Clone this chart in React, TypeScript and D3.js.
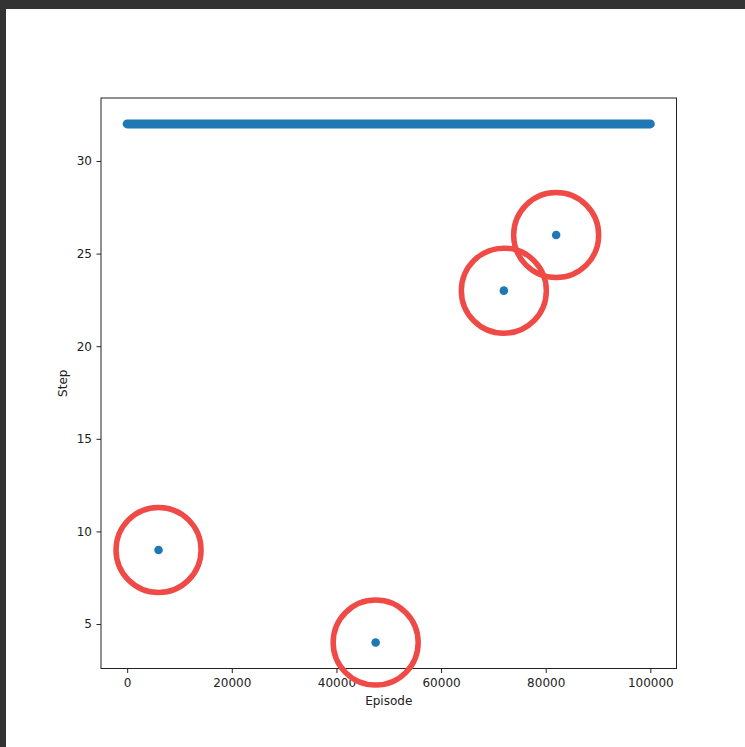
import React, { useRef, useEffect } from 'react';
import * as d3 from 'd3';

// steady run: every episode in this range finished at the same step count
const steadyEpisodes = [0, 100000];
const steadyStep = 32;

// episodes that ended early (each one circled in red)
const outlierEpisodes = [6000, 47500, 72000, 82000];
const outlierSteps = [9, 4, 23, 26];

const xTicks = [0, 20000, 40000, 60000, 80000, 100000];
const yTicks = [5, 10, 15, 20, 25, 30];

const W = 745;
const H = 747;

const App: React.FC = () => {
  const svgRef = useRef<SVGSVGElement>(null);

  useEffect(() => {
    if (!svgRef.current) return;
    const svg = d3.select(svgRef.current);
    svg.selectAll('*').remove();

    const left = 101, right = 676.5, top = 98, bottom = 668.5;
    const blue = '#1f77b4';
    const font = 'DejaVu Sans, sans-serif';

    // dark frame of the screenshot
    svg.append('rect').attr('width', W).attr('height', H).attr('fill', '#333');
    svg.append('rect').attr('x', 6).attr('y', 9).attr('width', W - 6).attr('height', H - 9).attr('fill', '#fff');

    // matplotlib-like 5% margins
    const allX = [...steadyEpisodes, ...outlierEpisodes];
    const allY = [steadyStep, ...outlierSteps];
    const [x0, x1] = d3.extent(allX) as [number, number];
    const [y0, y1] = d3.extent(allY) as [number, number];
    const mx = (x1 - x0) * 0.05, my = (y1 - y0) * 0.05;

    const x = d3.scaleLinear().domain([x0 - mx, x1 + mx]).range([left, right]);
    const y = d3.scaleLinear().domain([y0 - my, y1 + my]).range([bottom, top]);

    const g = svg.append('g');

    // steady band of overlapping dots
    g.append('line')
      .attr('x1', x(steadyEpisodes[0]))
      .attr('x2', x(steadyEpisodes[1]))
      .attr('y1', y(steadyStep))
      .attr('y2', y(steadyStep))
      .attr('stroke', blue)
      .attr('stroke-width', 9)
      .attr('stroke-linecap', 'round');

    g.selectAll('circle.dot')
      .data(outlierEpisodes)
      .enter()
      .append('circle')
      .attr('class', 'dot')
      .attr('cx', d => x(d))
      .attr('cy', (d, i) => y(outlierSteps[i]))
      .attr('r', 4.3)
      .attr('fill', blue);

    // axes frame
    g.append('rect')
      .attr('x', left)
      .attr('y', top)
      .attr('width', right - left)
      .attr('height', bottom - top)
      .attr('fill', 'none')
      .attr('stroke', '#222')
      .attr('stroke-width', 1);

    const xAxis = g.append('g')
      .attr('transform', `translate(0,${bottom})`)
      .call(d3.axisBottom(x).tickValues(xTicks).tickFormat(d3.format('d')).tickSize(4.5).tickPadding(5));
    const yAxis = g.append('g')
      .attr('transform', `translate(${left},0)`)
      .call(d3.axisLeft(y).tickValues(yTicks).tickFormat(d3.format('d')).tickSize(4.5).tickPadding(4.5));
    [xAxis, yAxis].forEach(a => {
      a.select('.domain').remove();
      a.selectAll('line').attr('stroke', '#222');
      a.selectAll('text').attr('fill', '#222').style('font-family', font).style('font-size', '12px');
    });

    g.append('text')
      .attr('x', (left + right) / 2)
      .attr('y', 705)
      .attr('text-anchor', 'middle')
      .style('font-family', font)
      .style('font-size', '12px')
      .attr('fill', '#222')
      .text('Episode');

    g.append('text')
      .attr('transform', `translate(67,${(top + bottom) / 2}) rotate(-90)`)
      .attr('text-anchor', 'middle')
      .style('font-family', font)
      .style('font-size', '12px')
      .attr('fill', '#222')
      .text('Step');

    // red annotation rings
    g.selectAll('circle.ring')
      .data(outlierEpisodes)
      .enter()
      .append('circle')
      .attr('class', 'ring')
      .attr('cx', d => x(d))
      .attr('cy', (d, i) => y(outlierSteps[i]))
      .attr('r', 42.5)
      .attr('fill', 'none')
      .attr('stroke', '#ef4a46')
      .attr('stroke-width', 5.5);
  }, []);

  return (
    <div style={{ position: 'absolute', left: 0, top: 0 }}>
      <svg ref={svgRef} width={W} height={H} style={{ display: 'block' }} />
    </div>
  );
};

export default App;
